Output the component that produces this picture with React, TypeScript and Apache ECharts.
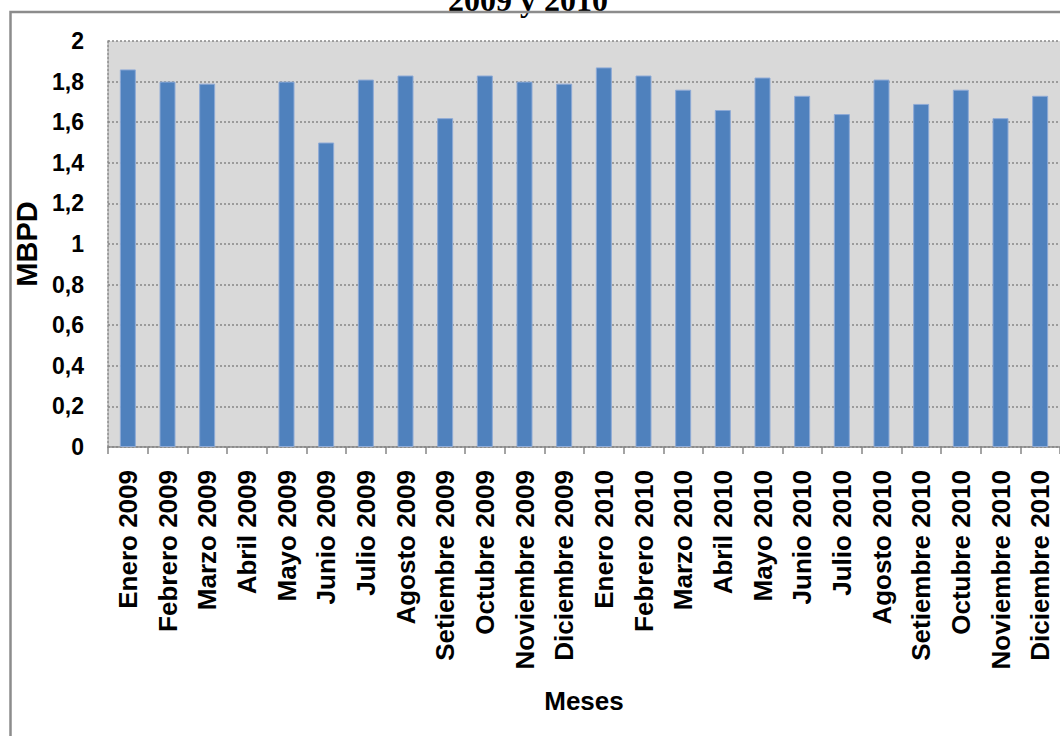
import React, { useEffect, useRef } from "react";
import * as echarts from "echarts";

const categories: string[] = [
  "Enero 2009", "Febrero 2009", "Marzo 2009", "Abril 2009", "Mayo 2009", "Junio 2009",
  "Julio 2009", "Agosto 2009", "Setiembre 2009", "Octubre 2009", "Noviembre 2009", "Diciembre 2009",
  "Enero 2010", "Febrero 2010", "Marzo 2010", "Abril 2010", "Mayo 2010", "Junio 2010",
  "Julio 2010", "Agosto 2010", "Setiembre 2010", "Octubre 2010", "Noviembre 2010", "Diciembre 2010",
];

const mbpd: (number | null)[] = [
  1.86, 1.80, 1.79, null, 1.80, 1.50,
  1.81, 1.83, 1.62, 1.83, 1.80, 1.79,
  1.87, 1.83, 1.76, 1.66, 1.82, 1.73,
  1.64, 1.81, 1.69, 1.76, 1.62, 1.73,
];

const titleText = "2009 y 2010";
const yAxisName = "MBPD";
const xAxisName = "Meses";

const SANS = "'Liberation Sans', Arial, sans-serif";

export default function App() {
  const ref = useRef<HTMLDivElement>(null);
  useEffect(() => {
    if (!ref.current) return;
    const chart = echarts.init(ref.current, undefined, { renderer: "svg" });
    chart.setOption({
      animation: false,
      backgroundColor: "#ffffff",
      graphic: [
        {
          type: "text",
          x: 528,
          y: 16,
          style: {
            text: titleText,
            font: "bold 32px 'Liberation Serif', 'Times New Roman', serif",
            fill: "#000",
            textAlign: "center",
            textVerticalAlign: "bottom",
          },
          z: 90,
        },
        {
          type: "rect",
          shape: { x: 10.5, y: 12, width: 1200, height: 900 },
          style: { fill: "none", stroke: "#8c8c8c", lineWidth: 2.5 },
          z: 100,
        },
      ],
      grid: {
        left: 108,
        right: -2,
        top: 41,
        bottom: 289,
        show: true,
        backgroundColor: "#d9d9d9",
        borderWidth: 0,
      },
      xAxis: {
        type: "category",
        data: categories,
        name: xAxisName,
        nameLocation: "middle",
        nameGap: 241,
        nameTextStyle: { fontFamily: SANS, fontWeight: "bold", fontSize: 26, color: "#000" },
        axisLine: { show: true, lineStyle: { color: "#868686", width: 1.5 } },
        axisTick: { show: true, length: 7, lineStyle: { color: "#868686", width: 1.5 } },
        axisLabel: {
          rotate: 90,
          margin: 23,
          interval: 0,
          fontFamily: SANS,
          fontWeight: "bold",
          fontSize: 26,
          color: "#000",
        },
        splitLine: { show: false },
      },
      yAxis: {
        type: "value",
        min: 0,
        max: 2,
        interval: 0.2,
        name: yAxisName,
        nameLocation: "middle",
        nameRotate: 90,
        nameGap: 65,
        nameTextStyle: { fontFamily: SANS, fontWeight: "bold", fontSize: 29, color: "#000" },
        axisLine: { show: true, lineStyle: { color: "#868686", width: 1.5, type: [2, 2] } },
        axisTick: { show: false },
        axisLabel: {
          margin: 24,
          fontFamily: SANS,
          fontWeight: "bold",
          fontSize: 23,
          color: "#000",
          formatter: (v: number) => String(+v.toFixed(1)).replace(".", ","),
        },
        splitLine: { show: true, lineStyle: { color: "#868686", width: 1.5, type: [2, 2] } },
      },
      series: [
        {
          type: "bar",
          data: mbpd,
          barWidth: 16,
          itemStyle: { color: "#4f81bd", borderColor: "#8eaad6", borderWidth: 1 },
        },
      ],
    });
    return () => chart.dispose();
  }, []);
  return (
    <div
      ref={ref}
      style={{ position: "absolute", left: 0, top: 0, width: 1060, height: 736 }}
    />
  );
}
